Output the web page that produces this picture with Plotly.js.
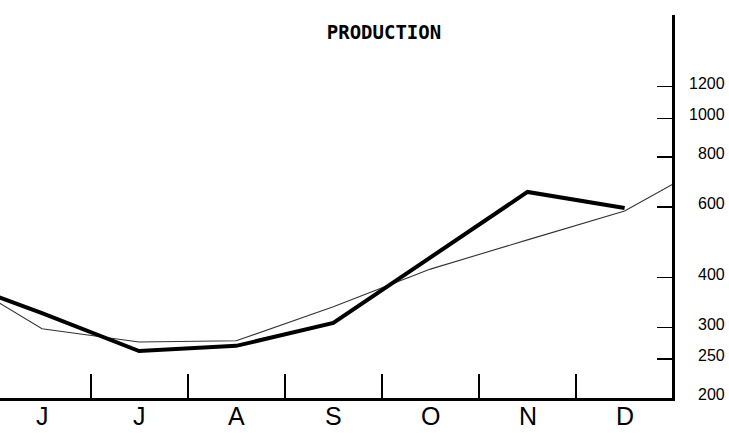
<!DOCTYPE html>
<html>
<head>
<meta charset="utf-8">
<script src="https://cdn.plot.ly/plotly-3.0.1.min.js"></script>
<style>
html,body{margin:0;padding:0;background:#fff;}
#chart{width:729px;height:433px;}
</style>
</head>
<body>
<div id="chart"></div>
<script>
// Month index: 0 = June ... 6 = December (-1 = May, 7 = January, partly off-chart)
const months = ['J', 'J', 'A', 'S', 'O', 'N', 'D'];
const heavyX = [-1, 0, 1, 2, 3, 4, 5, 6];
const heavyVals = [401, 326, 262, 270, 308, 448, 655, 597];
const lightX = [-1, 0, 1, 2, 3, 4, 5, 6, 7];
const lightVals = [418, 298, 276, 278, 338, 420, 497, 587, 801];
const yTickVals = [200, 250, 300, 400, 600, 800, 1000, 1200];
const yTickText = ['200', '250', '300', '400', '600', '800', '1000', '1200'];
const titleText = 'PRODUCTION';

const monthIdx = months.map((m, i) => i);
const boundaries = months.slice(0, -1).map((m, i) => i + 0.5);

const traces = [
  {
    x: lightX, y: lightVals, type: 'scatter', mode: 'lines',
    line: {color: '#333', width: 1.1},
    hoverinfo: 'skip', showlegend: false
  },
  {
    x: heavyX, y: heavyVals, type: 'scatter', mode: 'lines',
    line: {color: '#000', width: 4},
    hoverinfo: 'skip', showlegend: false
  }
];

const annotations = [];
yTickVals.forEach((v, i) => {
  annotations.push({
    xref: 'paper', x: 1.0818, xanchor: 'right',
    yref: 'y', y: Math.log10(v), yanchor: 'middle', yshift: 3.5,
    text: yTickText[i], showarrow: false,
    font: {family: 'Liberation Sans, Arial, sans-serif', size: 16, color: '#000'}
  });
});
monthIdx.forEach((i) => {
  annotations.push({
    xref: 'x', x: i, xanchor: 'center',
    yref: 'paper', y: -34 / 383, yanchor: 'bottom',
    text: months[i], showarrow: false,
    font: {family: 'Liberation Sans, Arial, sans-serif', size: 25, color: '#000'}
  });
});

const layout = {
  width: 729, height: 433,
  margin: {l: 0, r: 57, t: 15, b: 35, pad: 0},
  paper_bgcolor: '#fff', plot_bgcolor: '#fff',
  title: {
    text: titleText,
    xref: 'container', x: 384 / 729, xanchor: 'center',
    yref: 'container', y: 1 - 32 / 433, yanchor: 'middle',
    font: {family: 'DejaVu Sans Mono, monospace', size: 19, color: '#000', weight: 'bold'}
  },
  xaxis: {
    range: [-0.4325, 6.488],
    showline: true, linewidth: 3, linecolor: '#000',
    ticks: 'inside', ticklen: 24, tickwidth: 2, tickcolor: '#000',
    tickmode: 'array', tickvals: boundaries,
    showticklabels: false, showgrid: false, zeroline: false, fixedrange: true
  },
  yaxis: {
    type: 'log', side: 'right',
    range: [Math.log10(200), 3.2585],
    showline: true, linewidth: 3, linecolor: '#000',
    ticks: 'inside', ticklen: 15, tickwidth: 1.5, tickcolor: '#000',
    tickmode: 'array', tickvals: yTickVals,
    showticklabels: false, showgrid: false, zeroline: false, fixedrange: true
  },
  annotations: annotations,
  showlegend: false
};

Plotly.newPlot('chart', traces, layout, {staticPlot: true, displayModeBar: false});
</script>
</body>
</html>
